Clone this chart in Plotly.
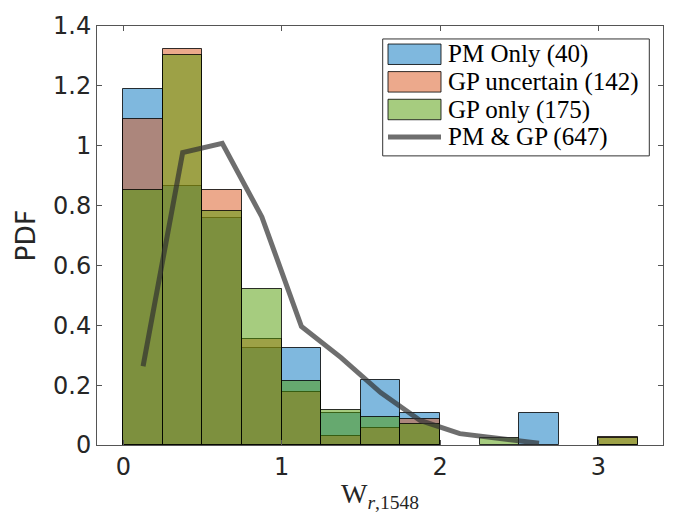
import plotly.graph_objects as go

# ---------------- data ----------------
bin_width = 0.25
bin_centers = [0.125, 0.375, 0.625, 0.875, 1.125, 1.375, 1.625, 1.875,
               2.125, 2.375, 2.625, 2.875, 3.125]
pm_only = [1.189, 0.865, 0.757, 0.324, 0.324, 0.108, 0.216, 0.108,
           None, None, 0.108, None, None]
gp_uncertain = [1.090, 1.324, 0.853, 0.354, 0.176, 0.029, 0.058, 0.087,
                None, None, None, None, 0.028]
gp_only = [0.852, 1.303, 0.782, 0.521, 0.2125, 0.118, 0.093, 0.069,
           None, 0.023, None, None, 0.022]
line_x = [0.125, 0.375, 0.625, 0.875, 1.125, 1.375, 1.625, 1.875,
          2.125, 2.375, 2.625]
pm_gp = [0.263, 0.977, 1.008, 0.762, 0.396, 0.292, 0.175, 0.082,
         0.038, 0.022, 0.006]
labels = ["PM Only (40)", "GP uncertain (142)", "GP only (175)", "PM &amp; GP (647)"]
y_ticks = [0, 0.2, 0.4, 0.6, 0.8, 1.0, 1.2, 1.4]
x_ticks = [0, 1, 2, 3]

# ---------------- style ----------------
W, H = 681, 522
L, R, T, B = 97, 18, 15, 77
PW, PH = W - L - R, H - T - B
fills = ["rgba(0,114,189,0.5)", "rgba(217,83,25,0.5)", "rgba(77,153,0,0.5)"]
edge = "rgba(0,0,0,0.8)"
line_col = "rgba(48,48,48,0.7)"
axis_col = "#555555"
txt_col = "#262626"


def px(x):
    return (x - L) / PW


def py(y):
    return (H - B - y) / PH


fig = go.Figure()
for vals, col, name in zip([pm_only, gp_uncertain, gp_only], fills, labels[:3]):
    fig.add_trace(go.Bar(x=bin_centers, y=vals, width=bin_width, name=name,
                         marker=dict(color=col, line=dict(color=edge, width=1)),
                         showlegend=False))
fig.add_trace(go.Scatter(x=line_x, y=pm_gp, mode="lines", name=labels[3],
                         line=dict(color=line_col, width=5),
                         showlegend=False))

# ---------------- manual legend (MATLAB style) ----------------
shapes = [dict(type="rect", xref="paper", yref="paper",
               x0=px(382.7), x1=px(649.3), y0=py(148.3), y1=py(28.3),
               line=dict(color="#333333", width=1), fillcolor="white", layer="above")]
rows = [44, 72.3, 100.7, 129]
annotations = []
for i, yc in enumerate(rows):
    if i < 3:
        shapes.append(dict(type="rect", xref="paper", yref="paper",
                           x0=px(388), x1=px(441), y0=py(yc + 10.5), y1=py(yc - 10.5),
                           line=dict(color=edge, width=1), fillcolor=fills[i], layer="above"))
    else:
        shapes.append(dict(type="line", xref="paper", yref="paper",
                           x0=px(388), x1=px(441), y0=py(yc), y1=py(yc),
                           line=dict(color=line_col, width=5), layer="above"))
    annotations.append(dict(xref="paper", yref="paper", x=px(446), y=py(yc),
                            xanchor="left", yanchor="middle", showarrow=False,
                            text=labels[i],
                            font=dict(family="Liberation Serif", size=25, color="black")))

annotations.append(dict(xref="paper", yref="paper", x=px(25), y=0.5,
                        xanchor="center", yanchor="middle", showarrow=False,
                        text="PDF", textangle=-90,
                        font=dict(family="DejaVu Sans", size=26.5, color=txt_col)))
annotations.append(dict(xref="paper", yref="paper", x=0.5, y=py(497),
                        xanchor="center", yanchor="middle", showarrow=False,
                        text="W<sub><i>r</i>,1548</sub>",
                        font=dict(family="Liberation Serif", size=28, color=txt_col)))

fig.update_layout(
    width=W, height=H, autosize=False,
    margin=dict(l=L, r=R, t=T, b=B),
    paper_bgcolor="white", plot_bgcolor="white",
    barmode="overlay", bargap=0,
    shapes=shapes, annotations=annotations,
    font=dict(family="DejaVu Sans", size=24, color=txt_col),
)
fig.update_xaxes(range=[-0.166, 3.408], tickvals=x_ticks, ticktext=[str(v) for v in x_ticks],
                 showgrid=False, zeroline=False, showline=True, linecolor=axis_col,
                 linewidth=1, mirror="ticks", ticks="inside", ticklen=5,
                 tickcolor=axis_col, tickfont=dict(size=24, color=txt_col))
fig.update_yaxes(range=[0, 1.4], tickvals=y_ticks,
                 ticktext=["0", "0.2", "0.4", "0.6", "0.8", "1", "1.2", "1.4"],
                 showgrid=False, zeroline=False, showline=True, linecolor=axis_col,
                 linewidth=1, mirror="ticks", ticks="inside", ticklen=5,
                 tickcolor=axis_col, tickfont=dict(size=24, color=txt_col))

fig.write_html("out.html")
